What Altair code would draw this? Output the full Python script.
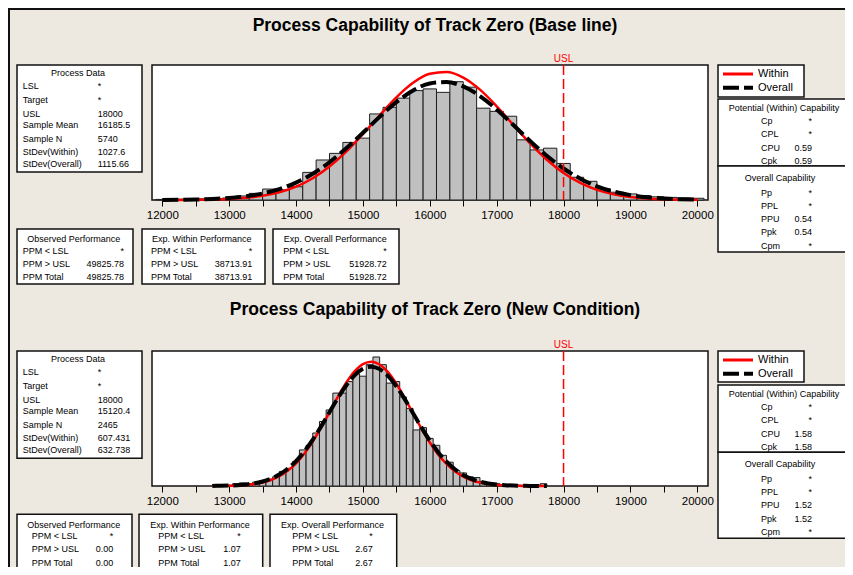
import altair as alt
import pandas as pd

# ---------------- values ----------------
titles = ["Process Capability of Track Zero (Base line)",
          "Process Capability of Track Zero (New Condition)"]
usl = 18000
x_ticks = list(range(12000, 20001, 500))

# Base line: histogram bin centres (width 200) and counts
base_bin_centres = list(range(12000, 20001, 200))
base_bin_width = 200
base_counts = [2, 3, 3, 4, 5, 7, 14, 23, 38, 35, 46,
               96, 139, 162, 200, 215, 299, 322, 354, 380, 386,
               374, 411, 392, 319, 308, 291, 209, 174, 180, 127,
               79, 65, 38, 27, 21, 15, 11, 9, 7, 6]
# fitted curves read along the x axis
base_curve_x = list(range(12000, 20001, 250))
base_within = [0.11, 0.29, 0.72, 1.67, 3.65, 7.5, 14.6, 26.9, 46.4, 75.6, 116.1,
               167.9, 229.0, 294.5, 356.7, 407.4, 438.5, 444.8, 425.3, 383.3, 325.5,
               260.6, 196.6, 139.9, 93.8, 59.2, 35.3, 19.8, 10.5, 5.2, 2.45, 1.09, 0.45]
base_overall = [0.36, 0.82, 1.75, 3.58, 6.97, 12.9, 22.7, 37.9, 60.3, 91.2, 131.2,
                179.4, 233.4, 288.8, 339.9, 380.4, 404.9, 409.8, 394.5, 361.2, 314.5,
                260.4, 205.1, 153.5, 109.4, 74.1, 47.7, 29.2, 17.0, 9.4, 5.0, 2.5, 1.2]

# New condition: histogram bin centres (width 100) and counts
new_bin_centres = list(range(12800, 17701, 100))
new_bin_width = 100
new_counts = [2, 2, 1, 3, 4, 3, 5, 7, 9, 12,
              19, 23, 32, 47, 53, 69, 84, 99, 121, 121,
              136, 146, 143, 158, 168, 158, 134, 136, 116, 101,
              73, 76, 62, 53, 40, 31, 20, 17, 12, 11,
              6, 4, 3, 2, 1, 1, 1, 1, 1, 3]
new_curve_x = list(range(12750, 17751, 125))
new_within = [0.08, 0.17, 0.37, 0.73, 1.41, 2.6, 4.6, 7.8, 12.7, 19.8, 29.5,
              42.3, 58.0, 76.3, 96.1, 116.1, 134.4, 149.2, 158.8, 161.9, 158.3,
              148.3, 133.2, 114.6, 94.6, 74.8, 56.7, 41.2, 28.7, 19.2, 12.3,
              7.5, 4.4, 2.5, 1.35, 0.70, 0.35, 0.16, 0.08, 0.03, 0.01]
new_overall = [0.14, 0.29, 0.57, 1.08, 1.97, 3.46, 5.85, 9.5, 14.9, 22.4, 32.4,
               45.1, 60.3, 77.6, 96.1, 114.4, 130.9, 144.1, 152.6, 155.4, 152.2,
               143.3, 129.8, 113.1, 94.7, 76.3, 59.1, 44.1, 31.6, 21.8, 14.4,
               9.2, 5.6, 3.3, 1.9, 1.03, 0.54, 0.27, 0.13, 0.06, 0.03]

process_title = "Process Data"
process_labels = ["LSL", "Target", "USL", "Sample Mean", "Sample N",
                  "StDev(Within)", "StDev(Overall)"]
base_process_values = ["*", "*", "18000", "16185.5", "5740", "1027.6", "1115.66"]
new_process_values = ["*", "*", "18000", "15120.4", "2465", "607.431", "632.738"]

perf_titles = ["Observed Performance", "Exp. Within Performance", "Exp. Overall Performance"]
perf_labels = ["PPM < LSL", "PPM > USL", "PPM Total"]
base_perf_values = [["*", "49825.78", "49825.78"],
                    ["*", "38713.91", "38713.91"],
                    ["*", "51928.72", "51928.72"]]
new_perf_values = [["*", "0.00", "0.00"],
                   ["*", "1.07", "1.07"],
                   ["*", "2.67", "2.67"]]

pot_title = "Potential (Within) Capability"
pot_labels = ["Cp", "CPL", "CPU", "Cpk"]
base_pot_values = ["*", "*", "0.59", "0.59"]
new_pot_values = ["*", "*", "1.58", "1.58"]
ovr_title = "Overall Capability"
ovr_labels = ["Pp", "PPL", "PPU", "Ppk", "Cpm"]
base_ovr_values = ["*", "*", "0.54", "0.54", "*"]
new_ovr_values = ["*", "*", "1.52", "1.52", "*"]
legend_labels = ["Within", "Overall"]

# ---------------- layout ----------------
W, H = 837, 559
BG = "#EDE9E0"
FONT = "Liberation Sans, Arial, sans-serif"
AXIS_FONT = "Liberation Sans, Arial, sans-serif"
X_DOMAIN = [11846, 20160]
X_RANGE = [144, 700]

panels = [
    dict(title=titles[0], title_y=18, frame_top=57, frame_bottom=192, ydom=[0, 469],
         bins=base_bin_centres, width=base_bin_width, counts=base_counts,
         cx=base_curve_x, within=base_within, overall=base_overall,
         pd_top=57, pd_bottom=164, pd_values=base_process_values,
         perf_top=221, perf_bottom=276,
         perf_boxes=[(9, 125, 14.7, 116, 65.7), (134, 257, 143, 244.3, 193.7),
                     (265, 391, 275.3, 378.7, 327.3)],
         perf_values=base_perf_values,
         leg_top=57, leg_bottom=89, pot_top=91, pot_bottom=158, ovr_bottom=244,
         pot_values=base_pot_values, ovr_values=base_ovr_values),
    dict(title=titles[1], title_y=302, frame_top=343, frame_bottom=478, ydom=[0, 175.8],
         bins=new_bin_centres, width=new_bin_width, counts=new_counts,
         cx=new_curve_x, within=new_within, overall=new_overall,
         pd_top=343, pd_bottom=450.3, pd_values=new_process_values,
         perf_top=506.3, perf_bottom=561.3,
         perf_boxes=[(9, 124, 23.7, 105.3, 65.7), (131, 254.7, 150.3, 232.7, 192),
                     (262, 388.7, 284.3, 364.7, 324.5)],
         perf_values=new_perf_values,
         leg_top=343, leg_bottom=374, pot_top=377, pot_bottom=444.3, ovr_bottom=530.3,
         pot_values=new_pot_values, ovr_values=new_ovr_values),
]

texts, boxes, leg_lines = [], [], []


def add(px, py, text, style):
    texts.append(dict(px=px, py=py, text=text, style=style))


pd_rows = [21.2, 34.8, 48.7, 60.3, 73.8, 87.3, 98.5]
perf_rows = [21.7, 35, 48.3]
pot_rows = [21.7, 35, 48.8, 62.2]
ovr_rows = [27, 39.5, 52.5, 66.4, 79.5]

for p in panels:
    add(427, p["title_y"], p["title"], "title")
    # histogram frame
    boxes.append(dict(x=X_RANGE[0], x2=X_RANGE[1], y=p["frame_top"], y2=p["frame_bottom"]))
    # process data
    boxes.append(dict(x=9, x2=134, y=p["pd_top"], y2=p["pd_bottom"]))
    add(70, p["pd_top"] + 8.3, process_title, "center")
    for off, lab, val in zip(pd_rows, process_labels, p["pd_values"]):
        add(14.7, p["pd_top"] + off, lab, "left")
        add(89.7, p["pd_top"] + off, val, "left")
    # performance boxes
    for (x1, x2, lx, vx, tc), ttl, vals in zip(p["perf_boxes"], perf_titles, p["perf_values"]):
        boxes.append(dict(x=x1, x2=x2, y=p["perf_top"], y2=p["perf_bottom"]))
        add(tc, p["perf_top"] + 10.3, ttl, "center")
        for off, lab, val in zip(perf_rows, perf_labels, vals):
            add(lx, p["perf_top"] + off, lab, "left")
            add(vx, p["perf_top"] + off, val, "right")
    # legend
    boxes.append(dict(x=710, x2=796, y=p["leg_top"], y2=p["leg_bottom"]))
    add(750, p["leg_top"] + 9, legend_labels[0], "legend")
    add(750, p["leg_top"] + 22.7, legend_labels[1], "legend")
    leg_lines.append(dict(x=715, x2=745, y=p["leg_top"] + 9, kind="within"))
    leg_lines.append(dict(x=715, x2=745, y=p["leg_top"] + 22.7, kind="overall"))
    # capability boxes
    boxes.append(dict(x=710, x2=900, y=p["pot_top"], y2=p["pot_bottom"]))
    add(776, p["pot_top"] + 8.5, pot_title, "center")
    for off, lab, val in zip(pot_rows, pot_labels, p["pot_values"]):
        add(753, p["pot_top"] + off, lab, "left")
        add(804, p["pot_top"] + off, val, "right")
    boxes.append(dict(x=710, x2=900, y=p["pot_bottom"], y2=p["ovr_bottom"]))
    add(772, p["pot_bottom"] + 11.7, ovr_title, "center")
    for off, lab, val in zip(ovr_rows, ovr_labels, p["ovr_values"]):
        add(753, p["pot_bottom"] + off, lab, "left")
        add(804, p["pot_bottom"] + off, val, "right")

texts_df = pd.DataFrame(texts)
boxes_df = pd.DataFrame(boxes)
lines_df = pd.DataFrame(leg_lines)

PX = dict(scale=None, axis=None)

border = alt.Chart(pd.DataFrame([dict(x=1, x2=2000, y=1, y2=2000)])).mark_rect(
    filled=False, stroke="#111111", strokeWidth=2).encode(
    x=alt.X("x:Q", **PX), x2="x2:Q", y=alt.Y("y:Q", **PX), y2="y2:Q")

box_layer = alt.Chart(boxes_df).mark_rect(
    fill="white", stroke="#111111", strokeWidth=1.5).encode(
    x=alt.X("x:Q", **PX), x2="x2:Q", y=alt.Y("y:Q", **PX), y2="y2:Q")


def panel_chart(p):
    xs = alt.Scale(domain=X_DOMAIN, range=X_RANGE, nice=False, zero=False)
    ys = alt.Scale(domain=p["ydom"], range=[p["frame_bottom"], p["frame_top"]],
                   nice=False, zero=False)
    axis = alt.Axis(values=x_ticks, format="d",
                    labelExpr="datum.value % 1000 === 0 ? datum.label : ''",
                    orient="bottom", offset=p["frame_bottom"] - H, domain=False,
                    grid=False, ticks=True, tickSize=6, tickColor="black", tickWidth=1,
                    labelColor="black", labelFont=AXIS_FONT, labelFontSize=11.5,
                    labelPadding=3, labelOverlap=False, labelFlush=False, title=None)
    half = p["width"] / 2
    hist = pd.DataFrame({"centre": p["bins"], "count": p["counts"]})
    hist["lo"] = hist["centre"] - half
    hist["hi"] = hist["centre"] + half
    bars = alt.Chart(hist).mark_rect(fill="#C0C0C0", stroke="#1E1E1E", strokeWidth=1).encode(
        x=alt.X("lo:Q", scale=xs, axis=axis), x2="hi:Q",
        y=alt.Y("count:Q", scale=ys, axis=None), y2=alt.datum(0))
    curves = pd.DataFrame({"x": p["cx"], "within": p["within"], "overall": p["overall"]})
    red = alt.Chart(curves).mark_line(color="#FF0000", strokeWidth=2.5,
                                      interpolate="monotone").encode(
        x=alt.X("x:Q", scale=xs, axis=axis), y=alt.Y("within:Q", scale=ys, axis=None))
    black = alt.Chart(curves).mark_line(color="black", strokeWidth=4, strokeDash=[16, 5],
                                        strokeCap="butt", interpolate="monotone").encode(
        x=alt.X("x:Q", scale=xs, axis=axis), y=alt.Y("overall:Q", scale=ys, axis=None))
    usl_df = pd.DataFrame({"usl": [usl], "lab": ["USL"]})
    rule = alt.Chart(usl_df).mark_rule(color="#FF0000", strokeWidth=1.5,
                                       strokeDash=[10, 4]).encode(
        x=alt.X("usl:Q", scale=xs, axis=axis),
        y=alt.value(p["frame_top"]), y2=alt.value(p["frame_bottom"]))
    lab = alt.Chart(usl_df).mark_text(color="#FF0000", font=FONT, fontSize=10,
                                      baseline="bottom").encode(
        x=alt.X("usl:Q", scale=xs, axis=axis), y=alt.value(p["frame_top"] - 1),
        text="lab:N")
    return alt.layer(bars, red, black, rule, lab)


leg_red = alt.Chart(lines_df[lines_df.kind == "within"]).mark_rule(
    color="#FF0000", strokeWidth=3).encode(
    x=alt.X("x:Q", **PX), x2="x2:Q", y=alt.Y("y:Q", **PX))
leg_black = alt.Chart(lines_df[lines_df.kind == "overall"]).mark_rule(
    color="black", strokeWidth=4, strokeDash=[16, 5], strokeCap="butt").encode(
    x=alt.X("x:Q", **PX), x2="x2:Q", y=alt.Y("y:Q", **PX))

styles = {
    "title": dict(font=AXIS_FONT, fontSize=17.5, fontWeight="bold", align="center"),
    "center": dict(font=FONT, fontSize=9, align="center"),
    "left": dict(font=FONT, fontSize=9, align="left"),
    "right": dict(font=FONT, fontSize=9, align="right"),
    "legend": dict(font=FONT, fontSize=11, align="left"),
}
text_layers = []
for style, props in styles.items():
    sub = texts_df[texts_df["style"] == style]
    text_layers.append(
        alt.Chart(sub).mark_text(baseline="middle", color="black", **props).encode(
            x=alt.X("px:Q", **PX), y=alt.Y("py:Q", **PX), text="text:N"))

chart = alt.layer(
    box_layer, panel_chart(panels[0]), panel_chart(panels[1]),
    leg_red, leg_black, border, *text_layers
).resolve_scale(x="independent", y="independent").properties(
    width=W, height=H, autosize=alt.AutoSizeParams(type="none"), padding=0
).configure(background=BG).configure_view(stroke=None)

chart.save("out.html", embed_options={"renderer": "svg", "actions": False})
